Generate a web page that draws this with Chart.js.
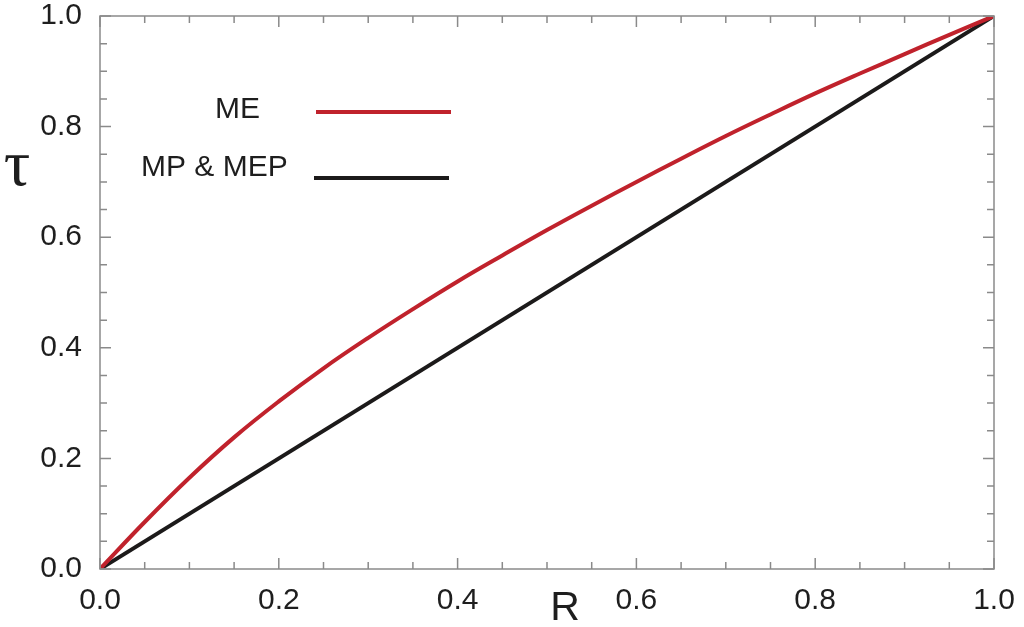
<!DOCTYPE html>
<html lang="en">
<head>
  <meta charset="UTF-8" />
  <title>tau vs R</title>
  <script src="https://cdn.jsdelivr.net/npm/chart.js"></script>
  <style>
    html, body {
      margin: 0;
      padding: 0;
      background: white;
    }
    #wrap {
      width: 1024px;
      height: 627px;
    }
  </style>
</head>
<body>
  <div id="wrap"><canvas id="chart"></canvas></div>

  <script>
    // ME curve
    const meR   = [0, 0.05, 0.1, 0.15, 0.2, 0.25, 0.3, 0.35, 0.4, 0.45, 0.5, 0.55, 0.6, 0.65, 0.7, 0.75, 0.8, 0.85, 0.9, 0.95, 1.0];
    const meTau = [0, 0.085, 0.165, 0.238, 0.303, 0.363, 0.418, 0.47, 0.52, 0.567, 0.613, 0.657, 0.70, 0.742, 0.783, 0.822, 0.86, 0.896, 0.931, 0.966, 1.0];

    // MP & MEP straight line
    const mpR   = [0, 1];
    const mpTau = [0, 1];

    const xTickLabels = ['0.0', '0.2', '0.4', '0.6', '0.8', '1.0'];
    const yTickLabels = ['0.0', '0.2', '0.4', '0.6', '0.8', '1.0'];
    const minorStep = 0.05;

    const seriesNames = ['ME', 'MP & MEP'];
    const xTitle = 'R';
    const yTitle = 'τ';

    const axisColor = '#8a8a8a';
    const textColor = '#1e1e1e';

    const toPoints = (xs, ys) => xs.map((x, i) => ({ x: x, y: ys[i] }));

    // frame, inward ticks on all four sides, axis titles and legend
    const decorations = {
      id: 'decorations',
      afterDraw(chart) {
        const ctx = chart.ctx;
        const a = chart.chartArea;
        const xs = chart.scales.x, ys = chart.scales.y;
        ctx.save();
        ctx.strokeStyle = axisColor;
        ctx.lineWidth = 1.5;
        ctx.strokeRect(a.left, a.top, a.right - a.left, a.bottom - a.top);

        const n = Math.round(1 / minorStep);
        for (let i = 0; i <= n; i++) {
          const v = i * minorStep;
          const len = (i % 4 === 0) ? 11 : 7;
          const px = xs.getPixelForValue(v);
          const py = ys.getPixelForValue(v);
          ctx.beginPath();
          ctx.moveTo(px, a.bottom); ctx.lineTo(px, a.bottom - len);
          ctx.moveTo(px, a.top); ctx.lineTo(px, a.top + len);
          ctx.moveTo(a.left, py); ctx.lineTo(a.left + len, py);
          ctx.moveTo(a.right, py); ctx.lineTo(a.right - len, py);
          ctx.stroke();
        }

        // axis titles
        ctx.fillStyle = textColor;
        ctx.textAlign = 'center';
        ctx.textBaseline = 'middle';
        ctx.font = '41px "Liberation Sans", Arial, sans-serif';
        ctx.fillText(xTitle, 565, 609);
        ctx.font = '66px "Liberation Serif", "Times New Roman", serif';
        ctx.fillText(yTitle, 17, 168);

        // legend: label to the left of a line sample
        const items = [
          { text: seriesNames[0], tx: 215, ty: 110, x1: 316, x2: 451, ly: 112, color: chart.data.datasets[0].borderColor },
          { text: seriesNames[1], tx: 141, ty: 168, x1: 314, x2: 449, ly: 178, color: chart.data.datasets[1].borderColor }
        ];
        ctx.font = '30px "Liberation Sans", Arial, sans-serif';
        ctx.textAlign = 'left';
        items.forEach(it => {
          ctx.fillStyle = textColor;
          ctx.fillText(it.text, it.tx, it.ty);
          ctx.strokeStyle = it.color;
          ctx.lineWidth = 4;
          ctx.beginPath();
          ctx.moveTo(it.x1, it.ly);
          ctx.lineTo(it.x2, it.ly);
          ctx.stroke();
        });
        ctx.restore();
      }
    };

    new Chart('chart', {
      type: 'line',
      data: {
        datasets: [
          {
            label: seriesNames[0],
            data: toPoints(meR, meTau),
            borderColor: '#c0222c',
            borderWidth: 4,
            pointRadius: 0,
            tension: 0.4,
            fill: false
          },
          {
            label: seriesNames[1],
            data: toPoints(mpR, mpTau),
            borderColor: '#1c1a1a',
            borderWidth: 4,
            pointRadius: 0,
            fill: false
          }
        ]
      },
      options: {
        responsive: true,
        maintainAspectRatio: false,
        animation: false,
        layout: { padding: { top: 16, right: 30, left: 0, bottom: 0 } },
        plugins: {
          legend: { display: false },
          tooltip: { enabled: false }
        },
        scales: {
          x: {
            type: 'linear',
            min: 0,
            max: 1,
            afterFit: s => { s.height = 58; s.paddingLeft = 0; s.paddingRight = 0; },
            afterBuildTicks: s => { s.ticks = xTickLabels.map(t => ({ value: parseFloat(t) })); },
            ticks: {
              padding: 6,
              color: textColor,
              font: { family: '"Liberation Sans", Arial, sans-serif', size: 30 },
              callback: (v, i) => xTickLabels[i]
            },
            grid: { display: false },
            border: { display: false }
          },
          y: {
            type: 'linear',
            min: 0,
            max: 1,
            afterFit: s => { s.width = 100; s.paddingTop = 0; s.paddingBottom = 0; },
            afterBuildTicks: s => { s.ticks = yTickLabels.map(t => ({ value: parseFloat(t) })); },
            ticks: {
              padding: 10,
              color: textColor,
              font: { family: '"Liberation Sans", Arial, sans-serif', size: 30 },
              callback: (v, i) => yTickLabels[i]
            },
            grid: { display: false },
            border: { display: false }
          }
        }
      },
      plugins: [decorations]
    });
  </script>
</body>
</html>
